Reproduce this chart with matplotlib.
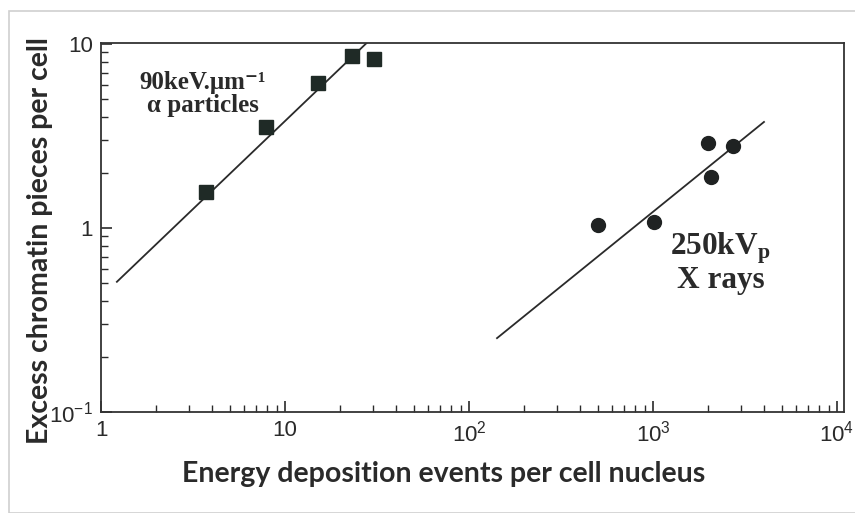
import numpy as np
import matplotlib
matplotlib.use("Agg")
import matplotlib.pyplot as plt
from matplotlib.patches import Rectangle

# alpha particles (90 keV/um)
alpha_x = [3.7, 7.9, 15.1, 23.0, 30.3]
alpha_y = [1.57, 3.54, 6.1, 8.6, 8.3]
alpha_fit_x = [1.22, 30.0]
alpha_fit_y = [0.51, 10.9]

# 250 kVp X rays
xray_x = [500, 1010, 2000, 2060, 2720]
xray_y = [1.04, 1.08, 2.9, 1.89, 2.79]
xray_fit_x = [142, 4010]
xray_fit_y = [0.252, 3.77]

xticks = [1, 10, 100, 1000, 10000]
xtick_labels = ['1', '10', '$10^2$', '$10^3$', '$10^4$']
yticks = [0.1, 1, 10]
ytick_labels = ['$10^{-1}$', '1', '10']

plt.rcParams['mathtext.fontset'] = 'custom'
plt.rcParams['mathtext.rm'] = 'Liberation Sans'
plt.rcParams['mathtext.it'] = 'Liberation Sans'
plt.rcParams['mathtext.bf'] = 'Liberation Serif:bold'

ink = '#2a2a2a'
serif = ['Liberation Serif', 'DejaVu Serif']

fig = plt.figure(figsize=(8.55, 5.13), dpi=100)
# light frame around the figure
fig.patches.append(Rectangle((9/855, 0), 1, 1 - 11/513, transform=fig.transFigure,
                             fill=False, edgecolor='#cfcfcf', linewidth=1.2))

ax = fig.add_axes([101/855, 1 - 412/513, (844 - 101)/855, (412 - 43)/513])
ax.set_xscale('log')
ax.set_yscale('log')
ax.set_xlim(1, 10**(743/184))
ax.set_ylim(0.1, 10**(369/184 - 1))

ax.plot(alpha_fit_x, alpha_fit_y, color=ink, lw=1.3)
ax.plot(alpha_x, alpha_y, 's', color='#1f2a26', ms=10)
ax.plot(xray_fit_x, xray_fit_y, color=ink, lw=1.3)
ax.plot(xray_x, xray_y, 'o', color='#1f2222', ms=10)

ax.set_xticks(xticks)
ax.set_xticklabels(xtick_labels, fontfamily='Liberation Sans', fontsize=16, color=ink)
ax.set_yticks(yticks)
ax.set_yticklabels(ytick_labels, fontfamily='Liberation Sans', fontsize=16, color=ink)
ax.tick_params(which='major', direction='in', length=8, width=1.2, color=ink, pad=6)
ax.tick_params(which='minor', direction='in', length=5, width=1.0, color=ink)
ax.tick_params(top=False, right=False, which='both')
for s in ax.spines.values():
    s.set_color('#333333')
    s.set_linewidth(1.3)

# curve labels
ax.text(0.137, 0.925, '90keV.μm⁻¹', transform=ax.transAxes, ha='center', va='top',
        fontfamily=serif, fontweight='bold', fontsize=18, color=ink)
ax.text(0.137, 0.862, 'α particles', transform=ax.transAxes, ha='center', va='top',
        fontfamily=serif, fontweight='bold', fontsize=18, color=ink)
ax.text(0.834, 0.492, r'$\mathbf{250kV_p}$', transform=ax.transAxes, ha='center', va='top',
        fontsize=22.5, color=ink)
ax.text(0.834, 0.396, 'X rays', transform=ax.transAxes, ha='center', va='top',
        fontfamily=serif, fontweight='bold', fontsize=22.5, color=ink)

fig.text(444/855, 1 - 474/513, 'Energy deposition events per cell nucleus', ha='center', va='center',
         fontfamily='Lato', fontweight='bold', fontsize=20.5, color=ink)
fig.text(40/855, 1 - 241/513, 'Excess chromatin pieces per cell', ha='center', va='center',
         rotation=90, fontfamily='Lato', fontweight='bold', fontsize=20.5, color=ink)

fig.savefig('out.png', dpi=100)
